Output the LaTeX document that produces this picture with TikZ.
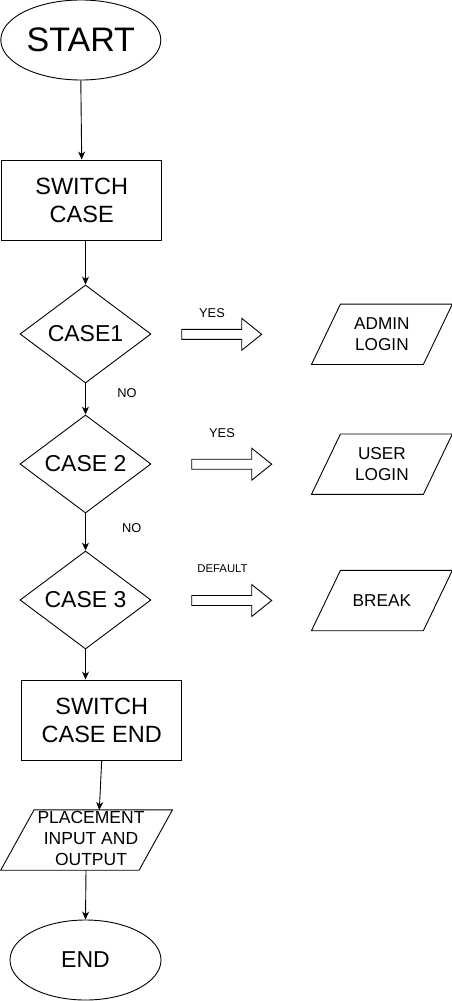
\documentclass[tikz,border=0pt]{standalone}
\usepackage{fontspec}
\setmainfont{Liberation Sans}
\usetikzlibrary{shapes.geometric,arrows.meta,calc}
\newcommand\paraoutline[2]{\draw[line width=0.9pt] ([xshift=#2]#1.north west) -- ([xshift=#2]#1.north east) -- ([xshift=-#2]#1.south east) -- ([xshift=-#2]#1.south west) -- cycle;}
\begin{document}
\begin{tikzpicture}[x=1pt,y=-1pt,
  base/.style={draw,line width=0.9pt,inner sep=0pt,align=center,text=black},
  term/.style={base,ellipse,minimum height=80pt},
  procbox/.style={base,rectangle,minimum width=160pt,minimum height=80pt,font=\fontsize{23.5}{28}\selectfont},
  decis/.style={base,diamond,aspect=1.34,minimum width=131pt,minimum height=98pt,font=\fontsize{23}{28}\selectfont},
  paratxt/.style={inner sep=0pt,align=center,minimum height=60pt},
  lbl/.style={inner sep=0pt,font=\fontsize{12.8}{15}\selectfont},
  conn/.style={line width=0.9pt,-{Stealth[length=8pt,width=7pt,inset=2.5pt]}},
  pics/blockarrow/.style={code={
    \draw[line width=0.9pt] (0,-5) -- (60,-5) -- (60,-16) -- (80,0) -- (60,16) -- (60,5) -- (0,5) -- cycle;}}
]
\useasboundingbox[fill=white] (0,0) rectangle (452,1001);

% main column
\node[term,minimum width=160pt,font=\fontsize{34}{40}\selectfont] (start) at (80.8,40) {START};
\node[procbox] (sw) at (81.7,200) {SWITCH\\CASE};
\node[decis] (c1) at (85.5,334) {CASE1};
\node[decis] (c2) at (85.5,464) {CASE 2};
\node[decis] (c3) at (85.5,600) {CASE 3};
\node[procbox] (swe) at (101.7,720) {SWITCH\\CASE END};
\node[paratxt,minimum width=138pt] (place) at (86.6,840) {};
\paraoutline{place}{16.7pt}
\node[inner sep=0pt,align=center,font=\fontsize{17.5}{20.7}\selectfont] (placetxt) at (91,838.5) {PLACEMENT\\INPUT AND\\OUTPUT};
\node[term,minimum width=151pt,font=\fontsize{23}{28}\selectfont] (endn) at (85.5,960) {END};

\coordinate (pin) at (99.3,810);
\coordinate (pout) at (86,870);

\draw[conn] (start.south) -- (sw.north);
\draw[conn] (sw.south -| c1.north) -- (c1.north);
\draw[conn] (c1.south) -- (c2.north);
\draw[conn] (c2.south) -- (c3.north);
\draw[conn] (c3.south) -- (c3.south |- swe.north);
\draw[conn] (swe.south) -- (pin);
\draw[conn] (pout) -- (endn.north);

\node[lbl] (no1) at (127,393.3) {NO};
\node[lbl] (no2) at (131.7,528.3) {NO};

% right side
\node[paratxt,minimum width=111.5pt,font=\fontsize{17.2}{20.7}\selectfont] (admin) at (381.9,334.3) {ADMIN\\LOGIN};
\paraoutline{admin}{14.5pt}
\node[paratxt,minimum width=111.5pt,font=\fontsize{17.2}{20.7}\selectfont] (user) at (381.9,464.2) {USER\\LOGIN};
\paraoutline{user}{14.5pt}
\node[paratxt,minimum width=111.5pt,font=\fontsize{17.2}{20.7}\selectfont] (brk) at (381.9,600.5) {BREAK};
\paraoutline{brk}{14.5pt}

\pic at (181.7,334.3) {blockarrow};
\pic at (191.7,464.2) {blockarrow};
\pic at (191.7,600.5) {blockarrow};

\node[lbl] (yes1) at (212,313.3) {YES};
\node[lbl] (yes2) at (222,433.3) {YES};
\node[lbl,font=\fontsize{11.3}{13}\selectfont] (dflt) at (222.5,569) {DEFAULT};
\end{tikzpicture}
\end{document}
